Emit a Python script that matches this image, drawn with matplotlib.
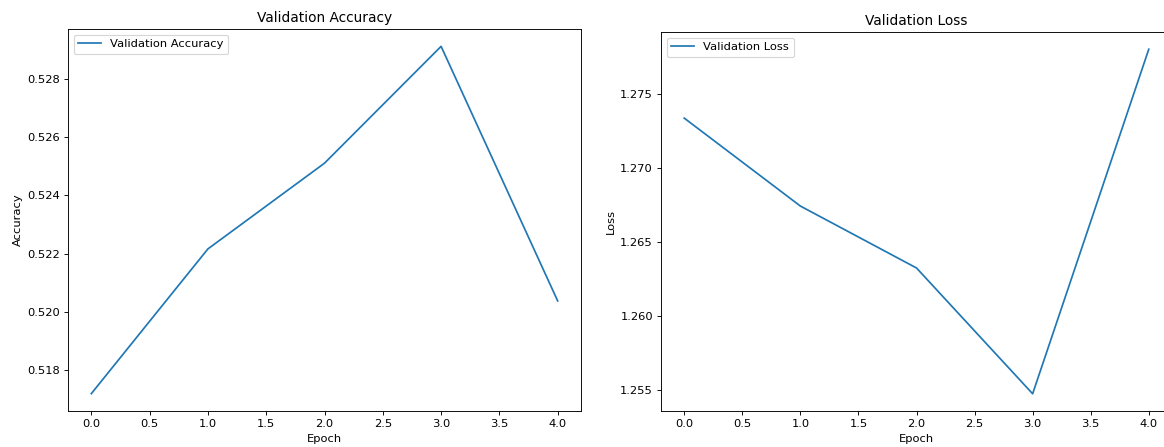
import matplotlib
matplotlib.use("Agg")
import matplotlib.pyplot as plt

epochs = [0, 1, 2, 3, 4]
val_accuracy = [0.51718, 0.52216, 0.52511, 0.52913, 0.52037]
val_loss = [1.27338, 1.26743, 1.26324, 1.25473, 1.27804]

W, H, DPI = 1164, 447, 82.5
fig = plt.figure(figsize=(W / DPI, H / DPI), dpi=DPI)


def px_axes(x0, y0, x1, y1):
    # axes rectangle given in pixel coordinates from the top-left corner
    return fig.add_axes([x0 / W, 1 - y1 / H, (x1 - x0) / W, (y1 - y0) / H])


ax1 = px_axes(68, 29, 581, 411)
ax2 = px_axes(661, 32, 1172, 411)

ax1.plot(epochs, val_accuracy, label="Validation Accuracy")
ax1.set_title("Validation Accuracy")
ax1.set_xlabel("Epoch")
ax1.set_ylabel("Accuracy")
ax1.legend(loc="upper left")

ax2.plot(epochs, val_loss, label="Validation Loss")
ax2.set_title("Validation Loss")
ax2.set_xlabel("Epoch")
ax2.set_ylabel("Loss")
ax2.legend(loc="upper left")

fig.savefig("out.png", dpi=DPI)
